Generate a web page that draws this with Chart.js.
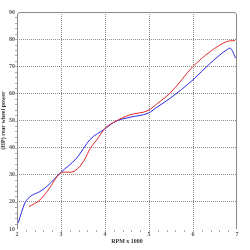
<!DOCTYPE html>
<html><head><meta charset="utf-8">
<script src="https://cdn.jsdelivr.net/npm/chart.js@4.4.0/dist/chart.umd.min.js"></script>
<style>html,body{margin:0;padding:0;background:#fff;}#wrap{width:250px;height:250px;}</style>
</head><body><div id="wrap"><canvas id="c" width="250" height="250"></canvas></div>
<script>
const blueRpm = [2.03, 2.1, 2.18, 2.32, 2.52, 2.7, 2.98, 3.36, 3.66, 4.0, 4.23, 4.57, 4.98, 5.2, 5.48, 6.0, 6.39, 6.77, 6.84, 6.97];
const bluePower = [12.3, 16, 19.6, 22.2, 23.8, 26, 30.6, 36.2, 43, 46.9, 49.6, 51.2, 52.7, 55.1, 58.2, 65, 71.1, 76.1, 76.7, 73];
const redRpm = [2.27, 2.52, 2.71, 2.98, 3.1, 3.2, 3.39, 3.55, 3.66, 3.81, 4.0, 4.23, 4.57, 4.98, 5.2, 5.48, 6.0, 6.39, 6.77, 6.95];
const redPower = [18.2, 20.7, 24.4, 30.5, 31.0, 30.9, 32.4, 36, 39.6, 42.8, 47.1, 49.6, 52.1, 53.7, 56.4, 60.1, 69.9, 75.4, 79.1, 79.5];
const xTicks = [2, 3, 4, 5, 6, 7];
const yTicks = [10, 20, 30, 40, 50, 60, 70, 80, 90];

const toPts = (xs, ys) => xs.map((x, i) => ({x: x, y: ys[i]}));
const tickFont = {family: 'Liberation Serif', size: 6, weight: 'bold'};
const gridCol = '#8c8c8c';

const framePlugin = {
  id: 'frame',
  afterDraw(chart) {
    const {ctx, chartArea: a} = chart;
    const xs = chart.scales.x, ys = chart.scales.y;
    ctx.save();
    ctx.strokeStyle = '#8a8a8a';
    ctx.lineWidth = 1;
    const r = 3;
    ctx.beginPath();
    ctx.moveTo(a.left + 0.5, a.bottom);
    ctx.lineTo(a.left + 0.5, a.top + r);
    ctx.quadraticCurveTo(a.left + 0.5, a.top + 0.5, a.left + r, a.top + 0.5);
    ctx.lineTo(a.right - r, a.top + 0.5);
    ctx.quadraticCurveTo(a.right - 0.5, a.top + 0.5, a.right - 0.5, a.top + r);
    ctx.lineTo(a.right - 0.5, a.bottom);
    ctx.stroke();
    ctx.strokeStyle = '#b0b0b0';
    ctx.beginPath();
    for (let v = 2.2; v < 7; v += 0.2) {
      const px = Math.round(xs.getPixelForValue(v)) + 0.5;
      ctx.moveTo(px, a.bottom + 1);
      ctx.lineTo(px, a.bottom + 3);
    }
    for (let v = 12; v < 90; v += 2) {
      const py = Math.round(ys.getPixelForValue(v)) + 0.5;
      ctx.moveTo(a.left - 2, py);
      ctx.lineTo(a.left, py);
    }
    ctx.stroke();
    ctx.restore();
  }
};

new Chart(document.getElementById('c'), {
  type: 'scatter',
  data: {
    datasets: [
      {data: toPts(redRpm, redPower), borderColor: '#e02828', borderWidth: 1, showLine: true, pointRadius: 0, tension: 0.4, cubicInterpolationMode: 'monotone'},
      {data: toPts(blueRpm, bluePower), borderColor: '#2828e0', borderWidth: 1, showLine: true, pointRadius: 0, tension: 0.4, cubicInterpolationMode: 'monotone'}
    ]
  },
  options: {
    responsive: false,
    animation: false,
    layout: {padding: {left: 0, right: 13, top: 12, bottom: 5}},
    plugins: {legend: {display: false}, tooltip: {enabled: false}},
    scales: {
      x: {
        type: 'linear', min: 2, max: 7,
        afterBuildTicks: s => { s.ticks = xTicks.map(v => ({value: v})); },
        afterFit: s => { s.height = 16; },
        grid: {lineWidth: 1, drawTicks: false,
               color: c => (c.tick && (c.tick.value === 2 || c.tick.value === 7)) ? 'rgba(0,0,0,0)' : gridCol},
        border: {display: false, dash: [1, 1]},
        ticks: {font: tickFont, color: '#555', padding: 2, maxRotation: 0},
        title: {display: true, text: 'RPM x 1000', font: {family: 'Liberation Serif', size: 6, weight: 'bold'}, color: '#333', padding: {top: 0, bottom: 0}}
      },
      y: {
        min: 10, max: 90,
        afterBuildTicks: s => { s.ticks = yTicks.map(v => ({value: v})); },
        afterFit: s => { s.width = 17; },
        grid: {lineWidth: 1, drawTicks: false,
               color: c => (c.tick && (c.tick.value === 10 || c.tick.value === 90)) ? 'rgba(0,0,0,0)' : gridCol},
        border: {display: false, dash: [1, 1]},
        ticks: {font: tickFont, color: '#555', padding: 2},
        title: {display: true, text: '(HP) rear wheel power', font: {family: 'Liberation Serif', size: 6, weight: 'bold'}, color: '#333', padding: {top: 0, bottom: 0}}
      }
    }
  },
  plugins: [framePlugin]
});
</script>
</body></html>
